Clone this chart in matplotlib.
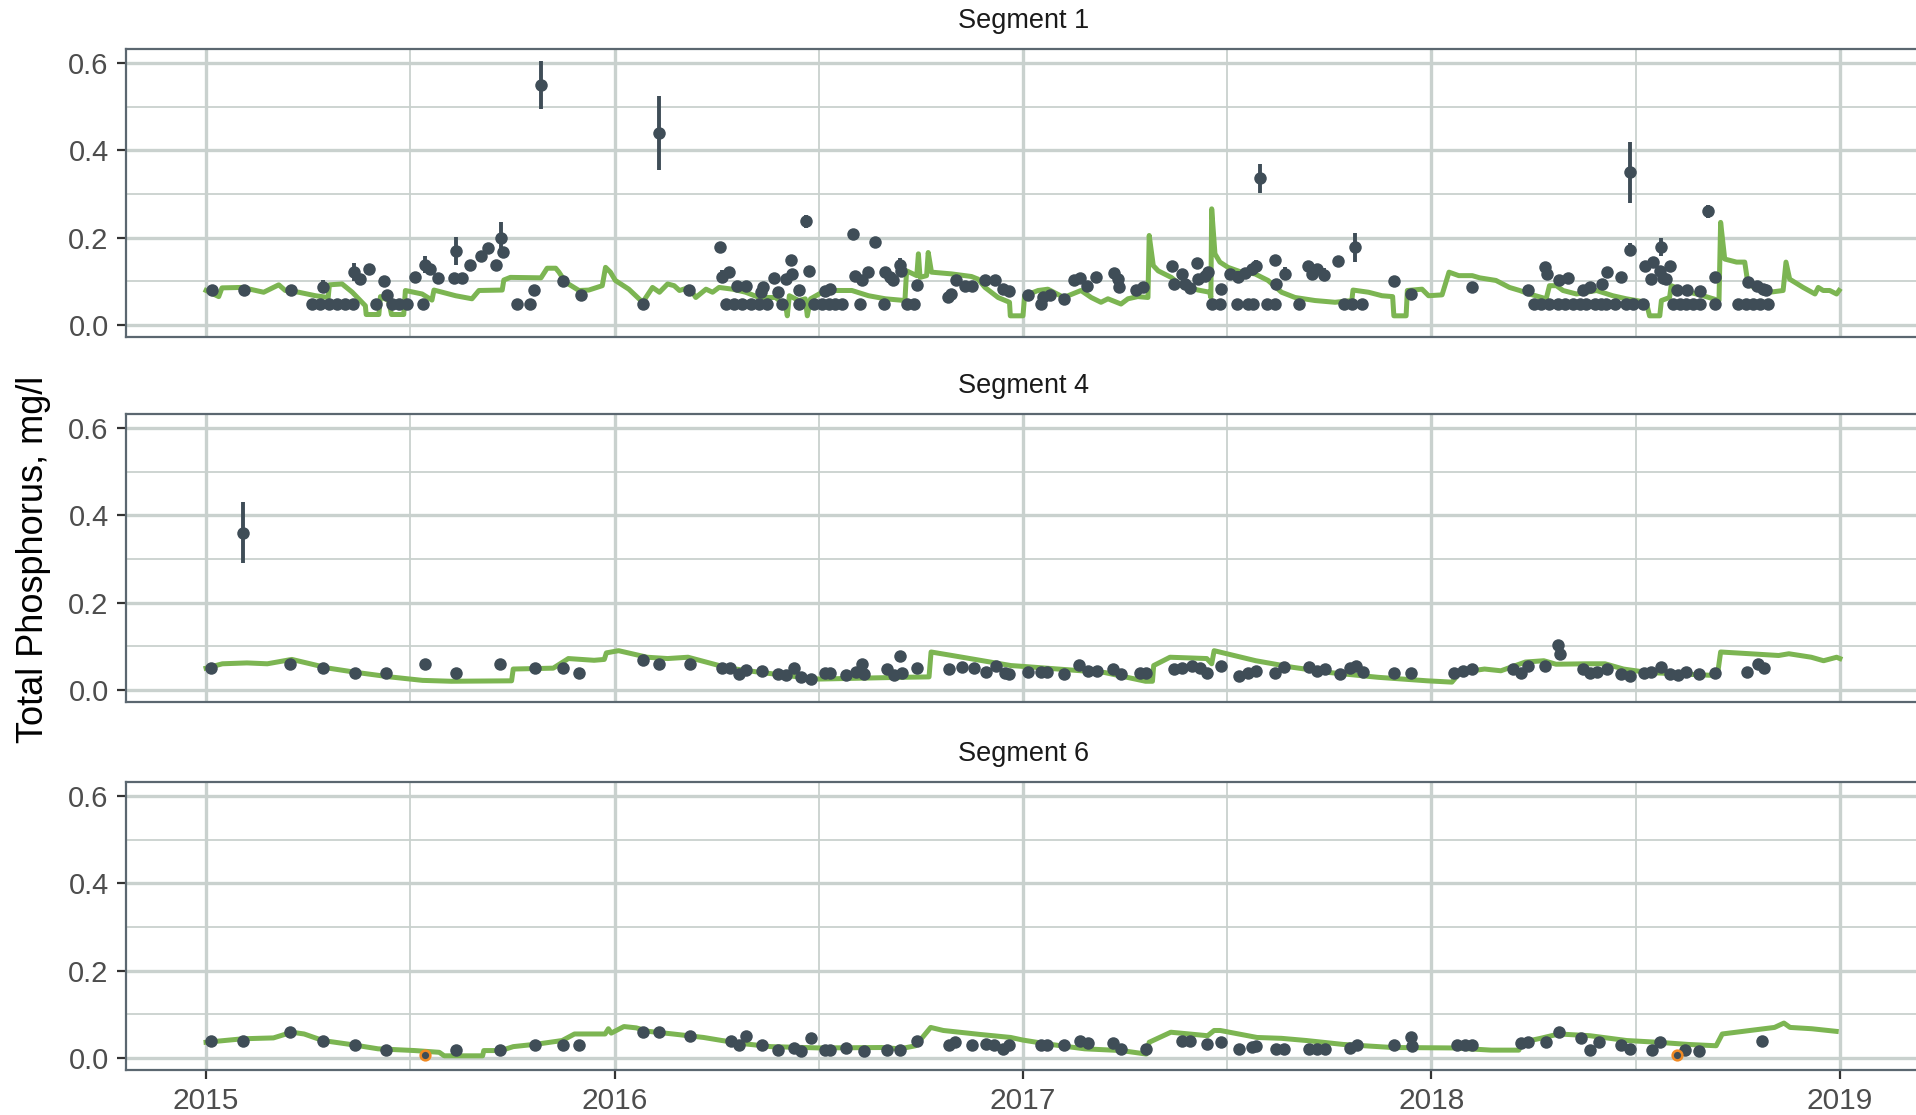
import numpy as np
import matplotlib
matplotlib.use("Agg")
import matplotlib.pyplot as plt
from matplotlib.ticker import FixedLocator

plt.rcParams['font.family'] = ['Liberation Sans', 'DejaVu Sans']

# ---------------- data ----------------
segments = ["Segment 1", "Segment 4", "Segment 6"]
year_ticks = [2015, 2016, 2017, 2018, 2019]
y_ticks = [0.0, 0.2, 0.4, 0.6]
y_label = "Total Phosphorus, mg/l"

# Segment 1 observations (decimal year, value, half-range)
seg1_x = [2015.015, 2015.092, 2015.207, 2015.260, 2015.280, 2015.287, 2015.300, 2015.321, 2015.341, 2015.359,
          2015.363, 2015.376, 2015.398, 2015.416, 2015.435, 2015.443, 2015.455, 2015.473, 2015.492, 2015.511,
          2015.531, 2015.537, 2015.549, 2015.568, 2015.608, 2015.613, 2015.627, 2015.646, 2015.672, 2015.691,
          2015.710, 2015.723, 2015.727, 2015.762, 2015.794, 2015.804, 2015.820, 2015.874, 2015.917, 2016.069,
          2016.110, 2016.183, 2016.259, 2016.264, 2016.272, 2016.280, 2016.293, 2016.300, 2016.313, 2016.321,
          2016.333, 2016.354, 2016.358, 2016.363, 2016.374, 2016.390, 2016.400, 2016.410, 2016.419, 2016.431,
          2016.435, 2016.451, 2016.452, 2016.469, 2016.477, 2016.488, 2016.508, 2016.516, 2016.524, 2016.528,
          2016.541, 2016.557, 2016.585, 2016.588, 2016.602, 2016.606, 2016.620, 2016.638, 2016.659, 2016.663,
          2016.675, 2016.683, 2016.699, 2016.702, 2016.715, 2016.732, 2016.740, 2016.817, 2016.825, 2016.837,
          2016.858, 2016.874, 2016.907, 2016.931, 2016.951, 2016.967, 2017.012, 2017.045, 2017.049, 2017.065,
          2017.100, 2017.126, 2017.140, 2017.157, 2017.179, 2017.222, 2017.232, 2017.234, 2017.277, 2017.294,
          2017.365, 2017.370, 2017.390, 2017.396, 2017.408, 2017.425, 2017.429, 2017.445, 2017.453, 2017.462,
          2017.482, 2017.484, 2017.507, 2017.523, 2017.527, 2017.543, 2017.552, 2017.560, 2017.564, 2017.570,
          2017.580, 2017.597, 2017.617, 2017.618, 2017.619, 2017.642, 2017.676, 2017.699, 2017.707, 2017.719,
          2017.736, 2017.771, 2017.785, 2017.805, 2017.813, 2017.830, 2017.909, 2017.951, 2018.100, 2018.236,
          2018.252, 2018.269, 2018.277, 2018.283, 2018.289, 2018.310, 2018.312, 2018.326, 2018.334, 2018.346,
          2018.363, 2018.371, 2018.379, 2018.387, 2018.400, 2018.416, 2018.417, 2018.428, 2018.429, 2018.449,
          2018.465, 2018.477, 2018.485, 2018.487, 2018.493, 2018.518, 2018.522, 2018.538, 2018.542, 2018.559,
          2018.563, 2018.567, 2018.575, 2018.583, 2018.592, 2018.601, 2018.608, 2018.624, 2018.625, 2018.641,
          2018.657, 2018.658, 2018.677, 2018.694, 2018.695, 2018.751, 2018.771, 2018.775, 2018.788, 2018.796,
          2018.804, 2018.812, 2018.820, 2018.824]
seg1_y = [0.079, 0.079, 0.080, 0.048, 0.048, 0.088, 0.048, 0.048, 0.048, 0.048,
          0.121, 0.105, 0.128, 0.048, 0.100, 0.069, 0.048, 0.048, 0.048, 0.109,
          0.048, 0.138, 0.128, 0.108, 0.108, 0.169, 0.108, 0.138, 0.159, 0.176,
          0.138, 0.199, 0.168, 0.048, 0.048, 0.079, 0.550, 0.100, 0.069, 0.048,
          0.440, 0.080, 0.178, 0.111, 0.048, 0.121, 0.048, 0.090, 0.048, 0.090,
          0.048, 0.048, 0.075, 0.088, 0.048, 0.108, 0.075, 0.048, 0.105, 0.149,
          0.117, 0.080, 0.048, 0.237, 0.123, 0.048, 0.048, 0.077, 0.048, 0.082,
          0.048, 0.048, 0.208, 0.113, 0.048, 0.103, 0.121, 0.189, 0.048, 0.121,
          0.109, 0.102, 0.138, 0.124, 0.048, 0.048, 0.092, 0.063, 0.071, 0.103,
          0.090, 0.090, 0.102, 0.103, 0.082, 0.077, 0.069, 0.048, 0.065, 0.069,
          0.060, 0.103, 0.108, 0.090, 0.109, 0.118, 0.105, 0.086, 0.080, 0.086,
          0.134, 0.095, 0.117, 0.094, 0.084, 0.141, 0.105, 0.113, 0.121, 0.048,
          0.048, 0.082, 0.117, 0.048, 0.111, 0.118, 0.048, 0.128, 0.048, 0.136,
          0.336, 0.048, 0.048, 0.149, 0.095, 0.117, 0.048, 0.134, 0.117, 0.128,
          0.115, 0.147, 0.048, 0.048, 0.178, 0.048, 0.100, 0.071, 0.088, 0.080,
          0.048, 0.048, 0.132, 0.117, 0.048, 0.048, 0.102, 0.048, 0.108, 0.048,
          0.048, 0.080, 0.048, 0.088, 0.048, 0.048, 0.095, 0.048, 0.121, 0.048,
          0.111, 0.048, 0.172, 0.350, 0.048, 0.048, 0.136, 0.105, 0.144, 0.124,
          0.179, 0.108, 0.105, 0.134, 0.048, 0.079, 0.048, 0.048, 0.079, 0.048,
          0.048, 0.077, 0.260, 0.048, 0.111, 0.048, 0.048, 0.098, 0.048, 0.090,
          0.048, 0.082, 0.079, 0.048]
seg1_err = [0, 0, 0, 0, 0, 0.015, 0, 0, 0, 0,
            0.02, 0, 0, 0, 0, 0, 0, 0, 0, 0,
            0, 0.02, 0, 0, 0, 0.032, 0, 0, 0, 0.01,
            0, 0.037, 0.01, 0, 0, 0, 0.055, 0.013, 0, 0,
            0.085, 0, 0.012, 0.015, 0, 0, 0, 0, 0, 0,
            0, 0, 0, 0, 0, 0, 0, 0, 0, 0,
            0, 0, 0, 0.015, 0.012, 0, 0, 0, 0, 0,
            0, 0, 0.012, 0, 0, 0, 0, 0.012, 0, 0,
            0, 0, 0.015, 0, 0, 0, 0, 0, 0, 0,
            0, 0, 0, 0, 0, 0, 0, 0, 0, 0,
            0, 0, 0, 0, 0, 0.01, 0, 0, 0, 0,
            0, 0, 0, 0, 0, 0, 0, 0, 0.012, 0,
            0, 0, 0, 0, 0.012, 0, 0, 0, 0, 0.012,
            0.033, 0, 0, 0.012, 0, 0.015, 0, 0.012, 0, 0,
            0.015, 0.012, 0, 0, 0.033, 0, 0.01, 0, 0.01, 0,
            0, 0, 0.012, 0, 0, 0, 0, 0, 0, 0,
            0, 0, 0, 0, 0, 0, 0, 0, 0, 0,
            0, 0, 0.015, 0.07, 0, 0, 0, 0, 0.012, 0,
            0.02, 0, 0, 0, 0, 0, 0, 0, 0, 0,
            0, 0, 0.015, 0, 0, 0, 0, 0, 0, 0,
            0, 0, 0, 0]

# Segment 1 model line
seg1_line_x = [2015.000, 2015.031, 2015.039, 2015.088, 2015.121, 2015.141, 2015.178, 2015.194, 2015.227, 2015.268,
               2015.299, 2015.302, 2015.333, 2015.358, 2015.390, 2015.392, 2015.423, 2015.427, 2015.447, 2015.454,
               2015.484, 2015.488, 2015.529, 2015.553, 2015.558, 2015.611, 2015.651, 2015.668, 2015.725, 2015.729,
               2015.745, 2015.820, 2015.835, 2015.856, 2015.864, 2015.880, 2015.913, 2015.937, 2015.970, 2015.978,
               2015.990, 2016.002, 2016.035, 2016.069, 2016.093, 2016.110, 2016.130, 2016.146, 2016.159, 2016.183,
               2016.199, 2016.224, 2016.240, 2016.256, 2016.289, 2016.321, 2016.354, 2016.394, 2016.419, 2016.423,
               2016.428, 2016.451, 2016.467, 2016.472, 2016.480, 2016.516, 2016.581, 2016.622, 2016.663, 2016.711,
               2016.715, 2016.740, 2016.744, 2016.748, 2016.764, 2016.768, 2016.776, 2016.825, 2016.874, 2016.890,
               2016.907, 2016.939, 2016.967, 2016.969, 2017.000, 2017.004, 2017.037, 2017.061, 2017.100, 2017.142,
               2017.167, 2017.191, 2017.208, 2017.240, 2017.257, 2017.281, 2017.306, 2017.309, 2017.319, 2017.331,
               2017.363, 2017.388, 2017.429, 2017.457, 2017.460, 2017.462, 2017.470, 2017.482, 2017.502, 2017.535,
               2017.568, 2017.600, 2017.633, 2017.666, 2017.715, 2017.764, 2017.805, 2017.808, 2017.846, 2017.879,
               2017.905, 2017.908, 2017.938, 2017.941, 2017.977, 2017.993, 2018.026, 2018.043, 2018.067, 2018.100,
               2018.118, 2018.158, 2018.191, 2018.216, 2018.240, 2018.281, 2018.289, 2018.306, 2018.322, 2018.355,
               2018.404, 2018.444, 2018.477, 2018.526, 2018.534, 2018.559, 2018.563, 2018.583, 2018.587, 2018.616,
               2018.665, 2018.704, 2018.708, 2018.718, 2018.747, 2018.767, 2018.775, 2018.804, 2018.828, 2018.861,
               2018.868, 2018.877, 2018.910, 2018.939, 2018.947, 2018.959, 2018.975, 2018.992, 2018.998]
seg1_line_y = [0.079, 0.065, 0.085, 0.086, 0.079, 0.075, 0.092, 0.079, 0.075, 0.067,
               0.063, 0.092, 0.094, 0.075, 0.044, 0.024, 0.024, 0.065, 0.056, 0.024,
               0.024, 0.079, 0.071, 0.057, 0.080, 0.067, 0.060, 0.079, 0.080, 0.103,
               0.109, 0.108, 0.130, 0.130, 0.121, 0.098, 0.079, 0.080, 0.090, 0.132,
               0.121, 0.102, 0.082, 0.052, 0.086, 0.075, 0.094, 0.090, 0.079, 0.086,
               0.063, 0.082, 0.075, 0.086, 0.082, 0.075, 0.063, 0.063, 0.044, 0.021,
               0.067, 0.056, 0.060, 0.021, 0.060, 0.079, 0.079, 0.067, 0.060, 0.056,
               0.124, 0.113, 0.163, 0.109, 0.113, 0.166, 0.121, 0.117, 0.111, 0.105,
               0.086, 0.063, 0.052, 0.021, 0.021, 0.067, 0.079, 0.082, 0.063, 0.079,
               0.063, 0.052, 0.060, 0.048, 0.060, 0.065, 0.063, 0.205, 0.136, 0.124,
               0.109, 0.090, 0.080, 0.075, 0.063, 0.266, 0.163, 0.144, 0.132, 0.121,
               0.117, 0.102, 0.075, 0.063, 0.056, 0.052, 0.056, 0.080, 0.075, 0.067,
               0.065, 0.021, 0.021, 0.079, 0.082, 0.067, 0.069, 0.121, 0.113, 0.113,
               0.108, 0.102, 0.086, 0.079, 0.071, 0.060, 0.090, 0.090, 0.079, 0.071,
               0.079, 0.067, 0.060, 0.052, 0.021, 0.021, 0.056, 0.063, 0.090, 0.079,
               0.067, 0.056, 0.235, 0.151, 0.144, 0.144, 0.094, 0.079, 0.075, 0.079,
               0.144, 0.105, 0.086, 0.071, 0.086, 0.079, 0.079, 0.071, 0.079]

# Segment 4 observations
seg4_x = [2015.012, 2015.090, 2015.206, 2015.286, 2015.364, 2015.440, 2015.537, 2015.613, 2015.720, 2015.805,
          2015.875, 2015.914, 2016.070, 2016.108, 2016.185, 2016.263, 2016.283, 2016.305, 2016.323, 2016.360,
          2016.400, 2016.420, 2016.440, 2016.456, 2016.480, 2016.515, 2016.527, 2016.567, 2016.590, 2016.605,
          2016.610, 2016.666, 2016.684, 2016.700, 2016.703, 2016.740, 2016.820, 2016.850, 2016.880, 2016.910,
          2016.933, 2016.955, 2016.967, 2017.012, 2017.045, 2017.060, 2017.100, 2017.136, 2017.158, 2017.180,
          2017.220, 2017.240, 2017.287, 2017.300, 2017.370, 2017.390, 2017.415, 2017.434, 2017.450, 2017.486,
          2017.528, 2017.550, 2017.570, 2017.618, 2017.640, 2017.700, 2017.720, 2017.740, 2017.777, 2017.800,
          2017.815, 2017.833, 2017.908, 2017.950, 2018.056, 2018.078, 2018.100, 2018.200, 2018.220, 2018.237,
          2018.277, 2018.310, 2018.315, 2018.370, 2018.388, 2018.405, 2018.430, 2018.463, 2018.486, 2018.520,
          2018.538, 2018.563, 2018.583, 2018.603, 2018.624, 2018.656, 2018.694, 2018.772, 2018.800, 2018.815]
seg4_y = [0.050, 0.360, 0.060, 0.050, 0.040, 0.040, 0.060, 0.040, 0.060, 0.050,
          0.050, 0.040, 0.069, 0.060, 0.060, 0.051, 0.050, 0.037, 0.046, 0.044,
          0.037, 0.034, 0.050, 0.029, 0.025, 0.040, 0.038, 0.034, 0.042, 0.060,
          0.037, 0.048, 0.034, 0.077, 0.040, 0.050, 0.047, 0.052, 0.050, 0.042,
          0.054, 0.040, 0.037, 0.042, 0.041, 0.041, 0.037, 0.057, 0.044, 0.044,
          0.048, 0.037, 0.040, 0.040, 0.048, 0.050, 0.054, 0.050, 0.040, 0.054,
          0.033, 0.040, 0.044, 0.040, 0.052, 0.052, 0.044, 0.048, 0.037, 0.050,
          0.054, 0.042, 0.040, 0.040, 0.040, 0.044, 0.048, 0.048, 0.040, 0.054,
          0.054, 0.102, 0.083, 0.047, 0.040, 0.042, 0.048, 0.037, 0.033, 0.040,
          0.042, 0.052, 0.037, 0.034, 0.042, 0.037, 0.040, 0.042, 0.060, 0.050]
seg4_err = [0, 0.07] + [0] * 98

seg4_line_x = [2015.000, 2015.040, 2015.100, 2015.150, 2015.210, 2015.300, 2015.370, 2015.450, 2015.530, 2015.600,
               2015.748, 2015.752, 2015.850, 2015.887, 2015.950, 2015.975, 2015.980, 2016.010, 2016.080, 2016.130,
               2016.180, 2016.280, 2016.360, 2016.450, 2016.500, 2016.700, 2016.770, 2016.775, 2016.820, 2016.970,
               2017.000, 2017.200, 2017.300, 2017.317, 2017.320, 2017.360, 2017.450, 2017.462, 2017.468, 2017.570,
               2017.660, 2017.750, 2017.870, 2017.990, 2018.050, 2018.070, 2018.130, 2018.170, 2018.230, 2018.275,
               2018.305, 2018.380, 2018.425, 2018.470, 2018.530, 2018.700, 2018.708, 2018.780, 2018.850, 2018.875,
               2018.930, 2018.960, 2018.992, 2019.000]
seg4_line_y = [0.050, 0.060, 0.062, 0.060, 0.070, 0.050, 0.040, 0.030, 0.022, 0.020,
               0.021, 0.048, 0.050, 0.072, 0.068, 0.070, 0.085, 0.090, 0.075, 0.072,
               0.075, 0.050, 0.040, 0.030, 0.025, 0.029, 0.030, 0.087, 0.080, 0.056,
               0.054, 0.040, 0.020, 0.020, 0.056, 0.075, 0.072, 0.060, 0.090, 0.067,
               0.052, 0.040, 0.029, 0.021, 0.018, 0.040, 0.048, 0.044, 0.064, 0.067,
               0.059, 0.060, 0.060, 0.048, 0.040, 0.033, 0.087, 0.083, 0.079, 0.083,
               0.075, 0.067, 0.075, 0.072]

# Segment 6 observations
seg6_x = [2015.012, 2015.090, 2015.206, 2015.286, 2015.364, 2015.440, 2015.613, 2015.720, 2015.805, 2015.875,
          2015.914, 2016.070, 2016.108, 2016.185, 2016.286, 2016.305, 2016.323, 2016.360, 2016.400, 2016.440,
          2016.456, 2016.480, 2016.515, 2016.527, 2016.567, 2016.610, 2016.666, 2016.700, 2016.740, 2016.820,
          2016.834, 2016.876, 2016.910, 2016.930, 2016.950, 2016.967, 2017.045, 2017.060, 2017.100, 2017.140,
          2017.160, 2017.220, 2017.240, 2017.300, 2017.390, 2017.410, 2017.450, 2017.486, 2017.530, 2017.560,
          2017.570, 2017.620, 2017.640, 2017.700, 2017.720, 2017.740, 2017.800, 2017.817, 2017.908, 2017.950,
          2017.953, 2018.063, 2018.083, 2018.100, 2018.220, 2018.237, 2018.280, 2018.312, 2018.365, 2018.388,
          2018.410, 2018.463, 2018.486, 2018.540, 2018.560, 2018.620, 2018.656, 2018.810]
seg6_y = [0.040, 0.040, 0.059, 0.040, 0.030, 0.019, 0.019, 0.019, 0.030, 0.030,
          0.030, 0.059, 0.059, 0.050, 0.040, 0.030, 0.050, 0.030, 0.019, 0.023,
          0.017, 0.045, 0.019, 0.019, 0.024, 0.017, 0.019, 0.019, 0.040, 0.030,
          0.036, 0.030, 0.032, 0.030, 0.020, 0.030, 0.030, 0.030, 0.030, 0.040,
          0.034, 0.034, 0.020, 0.020, 0.040, 0.040, 0.032, 0.036, 0.020, 0.026,
          0.028, 0.020, 0.020, 0.020, 0.020, 0.020, 0.024, 0.030, 0.030, 0.049,
          0.028, 0.030, 0.030, 0.030, 0.034, 0.036, 0.036, 0.059, 0.045, 0.019,
          0.036, 0.030, 0.020, 0.019, 0.036, 0.019, 0.017, 0.040]
# Segment 6 censored observations (orange outline)
seg6_cens_x = [2015.537, 2018.600]
seg6_cens_y = [0.007, 0.007]

seg6_line_x = [2015.000, 2015.090, 2015.165, 2015.210, 2015.240, 2015.286, 2015.361, 2015.421, 2015.511, 2015.571,
               2015.583, 2015.677, 2015.680, 2015.722, 2015.752, 2015.812, 2015.872, 2015.902, 2015.977, 2015.985,
               2015.992, 2016.023, 2016.053, 2016.083, 2016.143, 2016.218, 2016.263, 2016.323, 2016.383, 2016.504,
               2016.654, 2016.699, 2016.737, 2016.774, 2016.805, 2016.894, 2016.970, 2017.000, 2017.060, 2017.151,
               2017.241, 2017.302, 2017.309, 2017.362, 2017.452, 2017.468, 2017.483, 2017.573, 2017.633, 2017.694,
               2017.784, 2017.905, 2018.056, 2018.146, 2018.214, 2018.222, 2018.267, 2018.312, 2018.388, 2018.478,
               2018.554, 2018.629, 2018.697, 2018.712, 2018.780, 2018.840, 2018.863, 2018.878, 2018.931, 2018.991]
seg6_line_y = [0.036, 0.044, 0.046, 0.059, 0.055, 0.040, 0.030, 0.021, 0.017, 0.013,
               0.005, 0.005, 0.017, 0.017, 0.026, 0.032, 0.040, 0.055, 0.055, 0.067,
               0.057, 0.072, 0.069, 0.061, 0.055, 0.047, 0.040, 0.032, 0.026, 0.023,
               0.024, 0.021, 0.028, 0.070, 0.063, 0.054, 0.047, 0.041, 0.032, 0.021,
               0.017, 0.009, 0.036, 0.059, 0.051, 0.063, 0.063, 0.047, 0.045, 0.040,
               0.031, 0.024, 0.023, 0.018, 0.018, 0.036, 0.045, 0.055, 0.051, 0.040,
               0.036, 0.031, 0.028, 0.055, 0.063, 0.070, 0.080, 0.070, 0.067, 0.061]

# ---------------- style ----------------
PT = "#3f4d57"
GREEN = "#7cb552"
ORANGE = "#f08a24"
GRID = "#c9d1ce"
BORDER = "#5b6770"
TICKTXT = "#4d4d4d"

W, H = 1916, 1115
fig = plt.figure(figsize=(W / 100, H / 100), dpi=100)

panel_tops = [49, 414, 782]
panel_h = 288
left_px, right_px = 126, 1922

panels = [
    (seg1_x, seg1_y, seg1_err, seg1_line_x, seg1_line_y, None, None),
    (seg4_x, seg4_y, seg4_err, seg4_line_x, seg4_line_y, None, None),
    (seg6_x, seg6_y, [0] * len(seg6_x), seg6_line_x, seg6_line_y, seg6_cens_x, seg6_cens_y),
]

for i, (px, py, pe, lx, ly, cx, cy) in enumerate(panels):
    top = panel_tops[i]
    ax = fig.add_axes([left_px / W, 1 - (top + panel_h) / H, (right_px - left_px) / W, panel_h / H])
    ax.set_xlim(2014.804, 2019.201)
    ax.set_ylim(-0.0275, 0.632)

    # grid
    ax.yaxis.set_major_locator(FixedLocator(y_ticks))
    ax.yaxis.set_minor_locator(FixedLocator([0.1, 0.3, 0.5]))
    ax.xaxis.set_major_locator(FixedLocator(year_ticks))
    ax.xaxis.set_minor_locator(FixedLocator([2014.5 + k for k in range(6)]))
    ax.grid(which="major", color=GRID, linewidth=2.4)
    ax.grid(which="minor", color=GRID, linewidth=1.3)
    ax.set_axisbelow(True)

    for s in ax.spines.values():
        s.set_color(BORDER)
        s.set_linewidth(1.6)

    ax.plot(lx, ly, color=GREEN, linewidth=3.6, solid_joinstyle="round", zorder=3)

    px_a = np.array(px); py_a = np.array(py); pe_a = np.array(pe)
    m = pe_a > 0
    ax.vlines(px_a[m], py_a[m] - pe_a[m], py_a[m] + pe_a[m], color=PT, linewidth=2.8, zorder=4)
    ax.plot(px_a, py_a, "o", color=PT, markersize=9, markeredgewidth=0, zorder=5)
    if cx is not None:
        ax.plot(cx, cy, "o", markerfacecolor=PT, markeredgecolor=ORANGE, markersize=7,
                markeredgewidth=1.8, zorder=6)

    ax.set_yticklabels(["0.0", "0.2", "0.4", "0.6"])
    ax.tick_params(axis="y", which="major", length=6.5, width=1.6, color="#333333",
                   labelsize=21, labelcolor=TICKTXT, pad=6)
    ax.tick_params(which="minor", length=0)
    if i < 2:
        ax.tick_params(axis="x", which="major", length=0, labelbottom=False)
    else:
        ax.set_xticklabels([str(y) for y in year_ticks])
        ax.tick_params(axis="x", which="major", length=6.5, width=1.6, color="#333333",
                       labelsize=21.5, labelcolor=TICKTXT, pad=6)

    ax.text(0.5, 1 + 28 / panel_h, segments[i], transform=ax.transAxes, ha="center", va="center",
            fontsize=19.5, color="#1a1a1a")

fig.text(34 / W, 1 - 559 / H, y_label, rotation=90, ha="center", va="center", fontsize=26, color="black")

fig.savefig("out.png", dpi=100)
